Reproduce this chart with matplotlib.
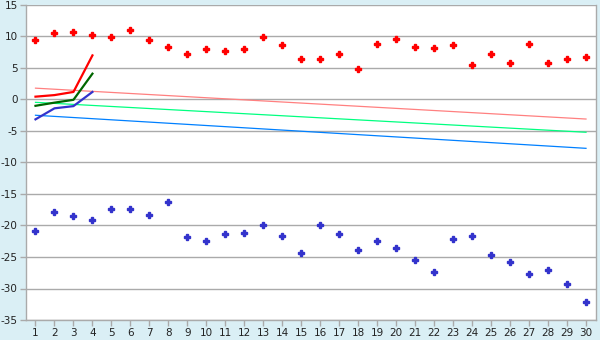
import numpy as np
import matplotlib.pyplot as plt

plt.rcParams['axes.unicode_minus'] = False

# data
x = np.arange(1, 31)
red_pts = [9.4, 10.5, 10.7, 10.2, 9.9, 11.1, 9.4, 8.3, 7.3, 8.0,
           7.7, 8.0, 9.9, 8.6, 6.4, 6.4, 7.2, 4.8, 8.8, 9.6,
           8.3, 8.1, 8.6, 5.4, 7.2, 5.8, 8.8, 5.8, 6.4, 6.7]
blue_pts = [-20.9, -17.9, -18.5, -19.2, -17.4, -17.4, -18.4, -16.3, -21.9, -22.5,
            -21.4, -21.2, -20.0, -21.7, -24.4, -20.0, -21.4, -23.9, -22.5, -23.5,
            -25.5, -27.4, -22.2, -21.6, -24.7, -25.8, -27.7, -27.1, -29.3, -32.2]

x_short = [1, 2, 3, 4]
red_line = [0.45, 0.7, 1.2, 7.0]
green_line = [-1.0, -0.5, -0.05, 4.1]
blue_line = [-3.15, -1.4, -1.05, 1.2]

trend_x = [1, 30]
pink_trend = [1.8, -3.1]
lgreen_trend = [-0.45, -5.2]
lblue_trend = [-2.5, -7.75]

bg = '#DAEFF5'
grid_c = '#AAAAAA'

fig = plt.figure(figsize=(6, 3.4), dpi=100, facecolor=bg)
ax = fig.add_axes([26/600, 1 - 320/340, (595.5 - 26)/600, 315/340])
ax.set_facecolor('white')

ax.set_xlim(0.5, 30.5)
ax.set_ylim(-35, 15)
ax.set_yticks(np.arange(-35, 16, 5))
ax.set_xticks(x)
ax.yaxis.grid(True, color=grid_c, linewidth=1)
ax.set_axisbelow(True)

for s in ['left', 'right', 'bottom']:
    ax.spines[s].set_color(grid_c)
    ax.spines[s].set_linewidth(1)
ax.spines['top'].set_visible(False)
ax.tick_params(colors=grid_c, labelcolor='#222222', labelsize=7.5, length=4, width=1, pad=2)

ax.plot(trend_x, pink_trend, color='#FF8080', linewidth=0.9)
ax.plot(trend_x, lgreen_trend, color='#00FF80', linewidth=0.9)
ax.plot(trend_x, lblue_trend, color='#0080FF', linewidth=0.9)

ax.plot(x_short, red_line, color='#FF0000', linewidth=1.6)
ax.plot(x_short, green_line, color='#006600', linewidth=1.6)
ax.plot(x_short, blue_line, color='#3333CC', linewidth=1.6)

ax.plot(x, red_pts, linestyle='none', marker='P', markersize=4.5, color='#FF0000')
ax.plot(x, blue_pts, linestyle='none', marker='P', markersize=4.5, color='#3333CC')

fig.savefig('out.png', dpi=100, facecolor=bg)
